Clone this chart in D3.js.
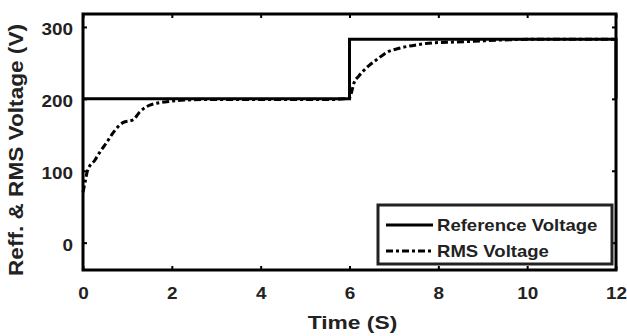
<!DOCTYPE html>
<html>
<head>
<meta charset="utf-8">
<script src="https://cdn.jsdelivr.net/npm/d3@7"></script>
<style>
  body { margin: 0; background: #fff; }
  text { font-family: "Liberation Sans", Arial, sans-serif; font-weight: bold; }
</style>
</head>
<body>
<div id="chart"></div>
<script>
var refTime = [0, 6, 6, 12, 12];
var refVolt = [200, 200, 283, 283, 200];

var rmsTime = [0, 0.05, 0.1, 0.27, 0.38, 0.53, 0.68, 0.9, 1.13, 1.28, 1.43, 1.66, 1.88, 2.2, 2.8, 3.5, 4.5, 5.5, 6.0,
               6.05, 6.1, 6.2, 6.3, 6.45, 6.6, 6.85, 7.1, 7.5, 7.9, 8.4, 8.8, 9.5, 10.5, 12];
var rmsVolt = [70, 85, 100, 115, 126, 139, 153, 167, 171, 182, 189, 194, 196, 198, 199, 199, 199, 199, 201,
               210, 222, 231, 238, 247, 254, 265, 270, 275, 278, 279, 280, 282, 283, 283];

var xTicks = [0, 2, 4, 6, 8, 10, 12];
var yTicks = [0, 100, 200, 300];
var seriesNames = ["Reference Voltage", "RMS Voltage"];

var width = 627, height = 336;
var margin = { top: 14, left: 83, bottom: 66, right: 11 };
var iw = width - margin.left - margin.right;
var ih = height - margin.top - margin.bottom;

var svg = d3.select("#chart").append("svg")
    .attr("width", width)
    .attr("height", height);

var x = d3.scaleLinear().domain([0, 12]).range([0, iw]);
var y = d3.scaleLinear().domain([-38, 318]).range([ih, 0]);

var g = svg.append("g").attr("transform", "translate(" + margin.left + "," + margin.top + ")");

// glyphs in the picture are a bit wider than tall
function widen(k) {
    return function(sel) {
        sel.each(function() {
            var w = this.getComputedTextLength();
            d3.select(this).attr("textLength", w * k).attr("lengthAdjust", "spacingAndGlyphs");
        });
    };
}

// ticks (inward, all four sides)
g.append("g").attr("transform", "translate(0," + ih + ")")
    .call(d3.axisBottom(x).tickValues(xTicks).tickSize(-4).tickPadding(18))
    .call(function(a) { a.select(".domain").remove(); });
g.append("g")
    .call(d3.axisTop(x).tickValues(xTicks).tickSize(-4).tickFormat(""))
    .call(function(a) { a.select(".domain").remove(); });
g.append("g")
    .call(d3.axisLeft(y).tickValues(yTicks).tickSize(-4).tickPadding(10))
    .call(function(a) { a.select(".domain").remove(); a.selectAll("text").attr("dy", "0.5em"); });
g.append("g").attr("transform", "translate(" + iw + ",0)")
    .call(d3.axisRight(y).tickValues(yTicks).tickSize(-4).tickFormat(""))
    .call(function(a) { a.select(".domain").remove(); });

g.selectAll(".tick line").attr("stroke", "#000").attr("stroke-width", 2);
g.selectAll(".tick text").style("font-size", "16px").attr("fill", "#222").call(widen(1.18));

var line = d3.line()
    .x(function(d) { return x(d[0]); })
    .y(function(d) { return y(d[1]); });

var refData = refTime.map(function(t, i) { return [t, refVolt[i]]; });
var rmsData = rmsTime.map(function(t, i) { return [t, rmsVolt[i]]; });

g.append("path")
    .datum(rmsData)
    .attr("d", line.curve(d3.curveMonotoneX))
    .attr("fill", "none")
    .attr("stroke", "#000")
    .attr("stroke-width", 3)
    .attr("stroke-dasharray", "7,3,3,3");

g.append("path")
    .datum(refData)
    .attr("d", line.curve(d3.curveLinear))
    .attr("fill", "none")
    .attr("stroke", "#000")
    .attr("stroke-width", 3);

// box
g.append("rect")
    .attr("x", 0).attr("y", 0)
    .attr("width", iw).attr("height", ih)
    .attr("fill", "none")
    .attr("stroke", "#000")
    .attr("stroke-width", 3);

// legend
var lg = svg.append("g").attr("transform", "translate(378,205)");
lg.append("rect")
    .attr("width", 234).attr("height", 59)
    .attr("fill", "#fff")
    .attr("stroke", "#222")
    .attr("stroke-width", 3);
seriesNames.forEach(function(name, i) {
    var ly = 20 + i * 26;
    lg.append("line")
        .attr("x1", 8).attr("x2", 55)
        .attr("y1", ly).attr("y2", ly)
        .attr("stroke", "#000")
        .attr("stroke-width", 3)
        .attr("stroke-dasharray", i === 0 ? null : "7,3,3,3");
    lg.append("text")
        .attr("x", 59).attr("y", ly + 6)
        .style("font-size", "17px")
        .attr("fill", "#222")
        .text(name)
        .call(widen(1.09));
});

// axis titles
svg.append("text")
    .attr("x", margin.left + iw / 2 + 3)
    .attr("y", 329)
    .style("text-anchor", "middle")
    .style("font-size", "19px")
    .attr("fill", "#222")
    .text("Time (S)")
    .call(widen(1.2));

svg.append("text")
    .attr("transform", "translate(23,150) rotate(-90)")
    .style("text-anchor", "middle")
    .style("font-size", "20px")
    .attr("fill", "#222")
    .attr("textLength", 252)
    .attr("lengthAdjust", "spacingAndGlyphs")
    .text("Reff. & RMS Voltage (V)");
</script>
</body>
</html>
